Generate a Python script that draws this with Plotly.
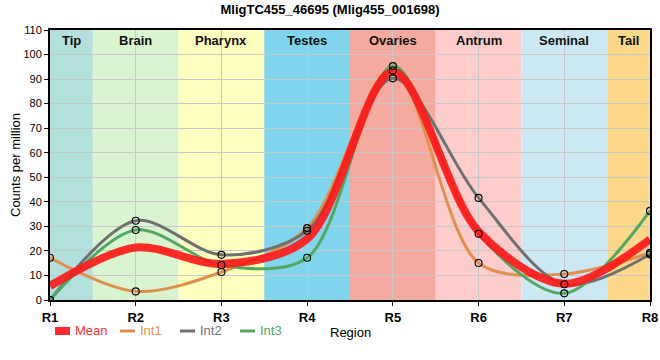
import plotly.graph_objects as go

regions = ["R1", "R2", "R3", "R4", "R5", "R6", "R7", "R8"]
x_pos = [1, 2, 3, 4, 5, 6, 7, 8]
int1 = [17.2, 3.5, 11.4, 29.3, 93.5, 15.1, 10.6, 19.2]
int2 = [0.0, 32.3, 18.4, 28.2, 90.3, 41.6, 6.4, 18.6]
int3 = [0.0, 28.5, 14.2, 17.2, 95.3, 27.0, 2.7, 36.3]
mean = [5.7, 21.4, 14.7, 24.9, 93.0, 27.9, 6.6, 24.7]

band_names = ["Tip", "Brain", "Pharynx", "Testes", "Ovaries", "Antrum", "Seminal", "Tail"]
band_colors = ["#b3e0dc", "#d8f5d0", "#ffffc0", "#80d4ec", "#f4aa9c", "#ffcccc", "#cce8f4", "#fdd88a"]

c_mean = "rgba(255,25,25,0.92)"
c1 = "#e0904e"
c2 = "#707070"
c3 = "#52a862"

# plot area geometry in pixels (for manual legend placement)
L, R, T, B = 50, 650, 30, 300
def px_x(p):
    return (p - L) / (R - L)
def px_y(p):
    return (B - p) / (B - T)

fig = go.Figure()

def line_trace(y, name, color, width):
    return go.Scatter(x=x_pos, y=y, mode="lines", name=name, showlegend=False,
                      line=dict(color=color, width=width, shape="spline", smoothing=0.9),
                      hoverinfo="skip")

fig.add_trace(line_trace(int1, "Int1", c1, 3))
fig.add_trace(line_trace(int2, "Int2", c2, 3))
fig.add_trace(line_trace(int3, "Int3", c3, 3))
fig.add_trace(line_trace(mean, "Mean", c_mean, 8))

for ys in (int1, int2, int3):
    fig.add_trace(go.Scatter(x=x_pos, y=ys, mode="markers", showlegend=False,
                             marker=dict(symbol="circle-open", size=7, color="black",
                                         line=dict(width=1.1, color="black"))))

shapes = []
annotations = []
for i, (nm, col) in enumerate(zip(band_names, band_colors)):
    x0 = max(x_pos[i] - 0.5, x_pos[0])
    x1 = min(x_pos[i] + 0.5, x_pos[-1])
    shapes.append(dict(type="rect", xref="x", yref="paper", x0=x0, x1=x1, y0=0, y1=1,
                       fillcolor=col, line=dict(width=0), layer="below"))
    annotations.append(dict(x=(x0 + x1) / 2, y=1, xref="x", yref="paper", yanchor="top",
                            yshift=-1, text="<b>%s</b>" % nm, showarrow=False,
                            font=dict(size=13, color="#111111", family="Liberation Sans")))

# manual legend
legend_items = [("Mean", c_mean, "#ff3030", 8, 55), ("Int1", c1, c1, 3, 120),
                ("Int2", c2, c2, 3, 180), ("Int3", c3, c3, 3, 240)]
ly = 331
for nm, lc, tc, w, sx in legend_items:
    shapes.append(dict(type="line", xref="paper", yref="paper", x0=px_x(sx), x1=px_x(sx + 15),
                       y0=px_y(ly), y1=px_y(ly), line=dict(color=lc, width=w)))
    annotations.append(dict(x=px_x(sx + 18), y=px_y(ly), xref="paper", yref="paper",
                            xanchor="left", yanchor="middle", text=nm, showarrow=False,
                            font=dict(size=13, color=tc, family="Liberation Sans")))

annotations.append(dict(x=0.5, y=px_y(332), xref="paper", yref="paper", text="Region",
                        showarrow=False, yanchor="middle",
                        font=dict(size=13, color="black", family="Liberation Sans")))

# y axis title
annotations.append(dict(x=px_x(15), y=0.5, xref="paper", yref="paper", text="Counts per million",
                        textangle=-90, showarrow=False, xanchor="center", yanchor="middle",
                        font=dict(size=13, color="black", family="Liberation Sans")))

fig.update_layout(
    width=660, height=360,
    margin=dict(l=L, r=660 - R, t=T, b=360 - B, autoexpand=False),
    paper_bgcolor="white", plot_bgcolor="rgba(0,0,0,0)",
    title=dict(text="<b>MligTC455_46695 (Mlig455_001698)</b>", x=0.5, xanchor="center",
               y=0.975, yanchor="middle",
               font=dict(size=13, color="black", family="Liberation Sans Narrow, Liberation Sans")),
    font=dict(family="Liberation Sans", color="black"),
    shapes=shapes, annotations=annotations,
    showlegend=False,
)
fig.update_xaxes(range=[1, 8], tickvals=x_pos, ticktext=["<b>%s</b>" % r for r in regions],
                 tickfont=dict(size=13, color="black"), showgrid=True, gridcolor="#c8c8c8",
                 gridwidth=1, showline=True, linecolor="black", linewidth=2, mirror=True,
                 ticks="outside", ticklen=4, tickcolor="black", zeroline=False,
                 automargin=False)
fig.update_yaxes(range=[0, 110], dtick=10, tickfont=dict(size=11, color="black"),
                 showgrid=True, gridcolor="#c8c8c8", gridwidth=1, showline=True,
                 linecolor="black", linewidth=2, mirror=True, ticks="outside", ticklen=4,
                 tickcolor="black", zeroline=False, automargin=False)

fig.write_html("out.html", config={"displayModeBar": False},
               post_script="document.body.style.margin='0px';document.body.style.padding='0px';")
